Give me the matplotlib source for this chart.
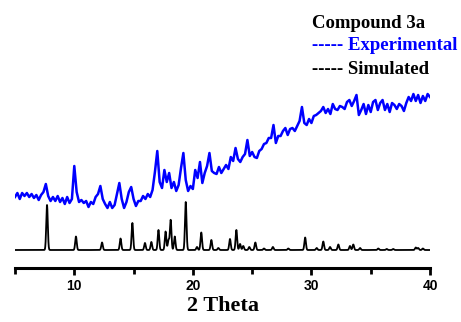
import numpy as np
import matplotlib
matplotlib.use('Agg')
import matplotlib.pyplot as plt

# simulated pattern: reflection positions (2theta, deg) and relative heights
sim_pos = [7.70, 10.14, 12.34, 13.90, 14.90, 15.96, 16.50, 17.10, 17.70, 17.95,
           18.13, 18.47, 19.40, 20.35, 20.71, 21.56, 22.15, 23.13, 23.67, 23.98,
           24.25, 24.76, 25.27, 26.00, 26.75, 28.05, 29.47, 30.44, 31.00, 31.57,
           32.27, 33.25, 33.53, 34.10, 35.64, 36.35, 36.90, 38.80, 39.00, 39.40]
sim_int = [45.0, 13.5, 7.5, 11.5, 27.0, 7.0, 8.0, 20.0, 18.5, 10.0,
           30.0, 13.5, 48.0, 3.0, 17.5, 10.0, 2.0, 11.0, 20.0, 6.0,
           4.0, 3.0, 7.5, 1.5, 3.0, 1.5, 12.5, 2.0, 8.5, 3.0,
           5.5, 4.0, 5.5, 2.0, 1.5, 1.0, 1.0, 2.5, 2.0, 1.5]

# experimental scan, 0.2 deg steps from 5 to 40 deg
exp_2theta = np.round(np.arange(5.0, 40.01, 0.2), 1)
exp_int = [53, 57, 51, 57, 54, 57, 53, 56, 52, 55,
           50, 55, 58, 66, 54, 49, 53, 49, 54, 48,
           52, 46, 53, 47, 51, 84, 58, 48, 50, 47,
           49, 43, 48, 46, 53, 56, 64, 51, 46, 42,
           48, 42, 45, 56, 67, 51, 42, 48, 58, 63,
           51, 44, 49, 49, 54, 51, 56, 53, 60, 78,
           99, 68, 62, 80, 68, 77, 62, 68, 59, 65,
           82, 97, 70, 59, 64, 61, 80, 72, 88, 67,
           77, 84, 97, 79, 77, 76, 83, 77, 81, 85,
           81, 93, 89, 102, 91, 88, 93, 96, 110, 94,
           98, 93, 92, 99, 101, 106, 107, 112, 112, 125,
           107, 114, 114, 119, 122, 115, 121, 122, 119, 124,
           129, 143, 127, 125, 131, 127, 134, 135, 137, 139,
           143, 137, 141, 136, 146, 141, 140, 144, 143, 141,
           148, 150, 144, 149, 155, 135, 140, 146, 136, 145,
           138, 148, 150, 140, 147, 150, 140, 146, 138, 147,
           145, 141, 146, 144, 139, 147, 153, 149, 156, 149,
           155, 147, 154, 149, 156, 153]

# broaden the simulated reflections onto a fine grid
tt = np.linspace(5, 40, 3501)
sim = np.zeros_like(tt)
for p, h in zip(sim_pos, sim_int):
    sim += h * np.exp(-0.5 * ((tt - p) / 0.065) ** 2)

fig = plt.figure(figsize=(4.61, 3.22), dpi=100)
ax = fig.add_axes([15 / 461, 54 / 322, 415 / 461, 268 / 322])

ax.plot(tt, sim, color='black', lw=1.3)
ax.plot(exp_2theta, exp_int, color='#0000ff', lw=1.8)

ax.set_xlim(5, 40)
ax.set_ylim(-18, 250)
for s in ['left', 'right', 'top']:
    ax.spines[s].set_visible(False)
ax.spines['bottom'].set_linewidth(2.2)
ax.set_yticks([])
ax.set_xticks([10, 20, 30, 40])
ax.set_xticks([5, 15, 25, 35], minor=True)
ax.tick_params(axis='x', which='major', length=5, width=2, pad=3)
ax.tick_params(axis='x', which='minor', length=4, width=2)
for lab in ax.get_xticklabels():
    lab.set_fontfamily('Liberation Sans')
    lab.set_fontweight('bold')
    lab.set_fontsize(10)

ax.set_xlabel('2 Theta', fontfamily='Liberation Serif', fontweight='bold',
              fontsize=16, labelpad=2)

serif = dict(fontfamily='Liberation Serif', fontweight='bold', fontsize=13.5,
             va='center', ha='left')
ax.text(30.05, 227, 'Compound 3a', color='black', **serif)
ax.text(30.05, 205, '----- Experimental', color='#0000ff', **serif)
ax.text(30.05, 181, '----- Simulated', color='black', **serif)

fig.savefig('out.png', dpi=100)
